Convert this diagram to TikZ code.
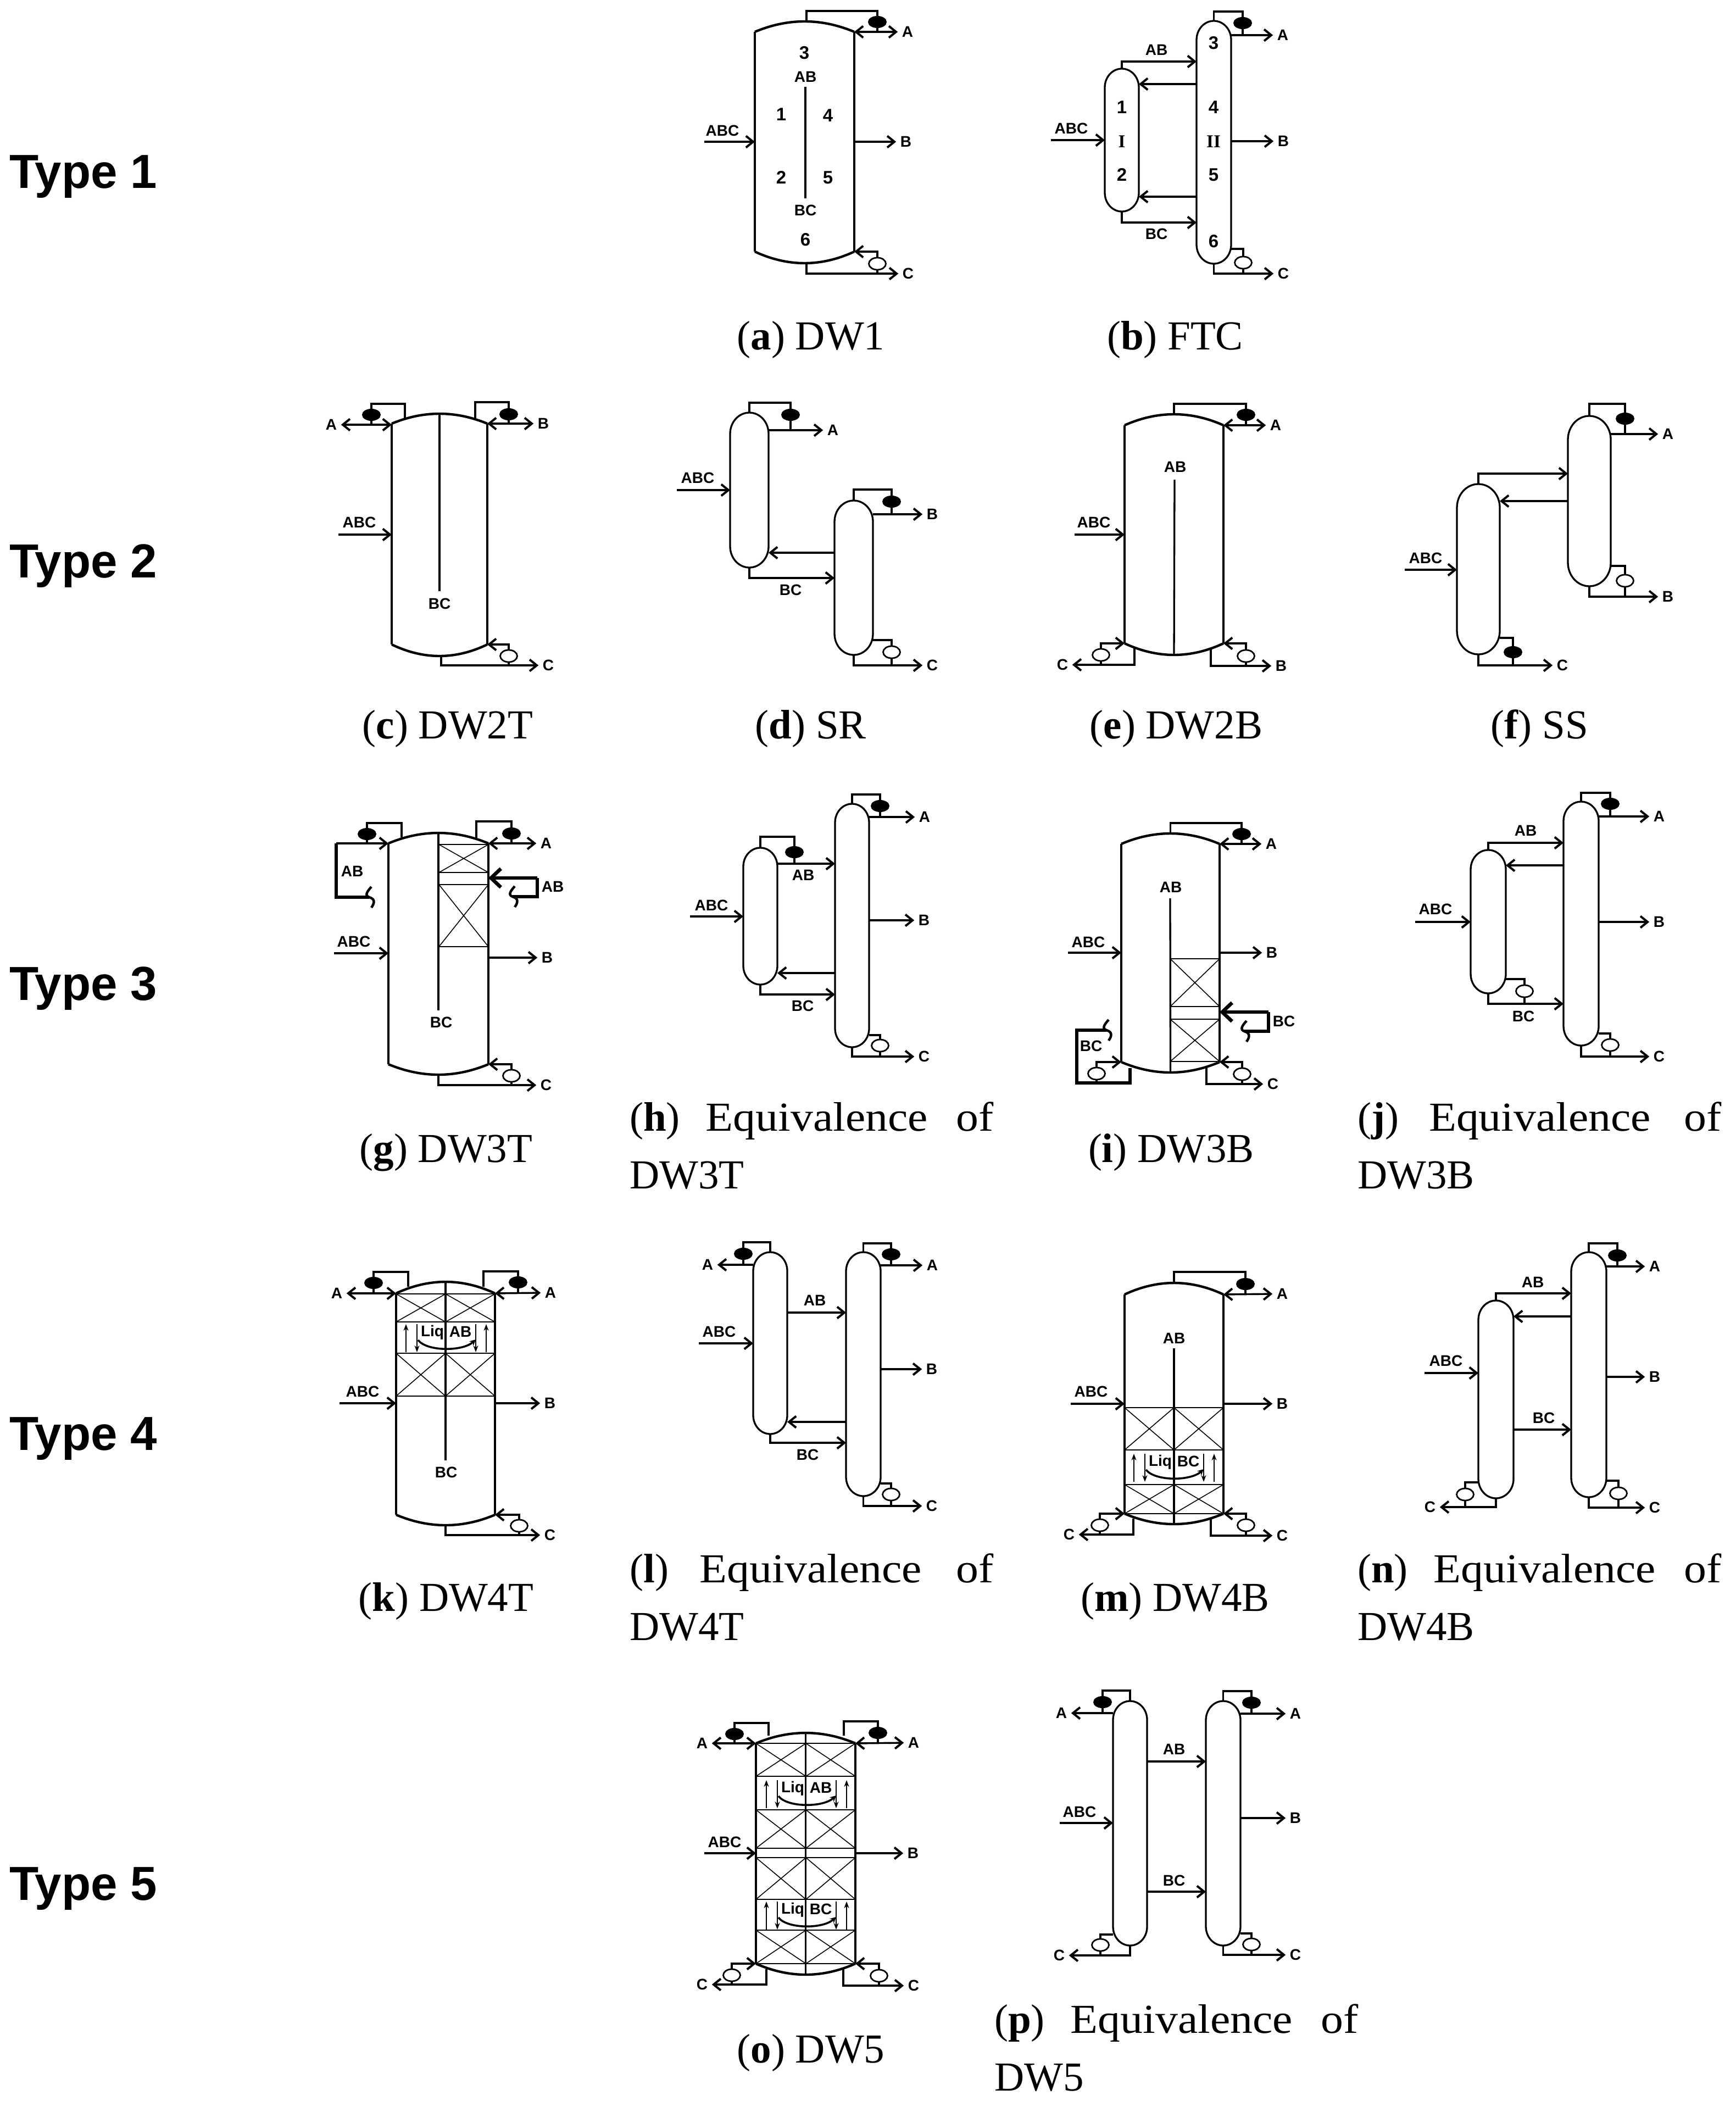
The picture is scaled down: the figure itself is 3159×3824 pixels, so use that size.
\documentclass[tikz,border=0pt]{standalone}
\usepackage{fontspec}
\setmainfont{Liberation Serif}
\setsansfont{Liberation Sans}
\newfontfamily\eqfam[FakeStretch=1.09]{Liberation Serif}
\usetikzlibrary{arrows.meta, shapes.geometric}

\tikzset{
    wall/.style={line width=3.3pt},
    dome/.style={line width=4.4pt},
    pipe/.style={line width=3.4pt},
    flow/.style={pipe, -{Straight Barb[length=13pt,width=21pt,line width=4pt]}},
    flowboth/.style={pipe, {Straight Barb[length=13pt,width=21pt,line width=4pt]}-{Straight Barb[length=13pt,width=21pt,line width=4pt]}},
    flowthick/.style={line width=6pt, -{Straight Barb[length=18pt,width=34pt,line width=6.5pt]}},
    loopline/.style={line width=5.5pt},
    foldline/.style={line width=4.5pt},
    packthin/.style={line width=1.6pt},
    packflat/.style={line width=2.6pt},
    liqarrow/.style={line width=2.6pt, -{Stealth[length=12pt,width=9pt]}},
    liqcurve/.style={line width=3.6pt, -{Stealth[length=11pt,width=11pt]}},
    colbox/.style={inner sep=0pt, outer sep=0pt},
    cond/.style={ellipse, fill=black, inner sep=0pt, minimum width=34pt, minimum height=22pt},
    reb/.style={ellipse, draw, fill=white, line width=2.8pt, inner sep=0pt, minimum width=31pt, minimum height=22pt},
    lbl/.style={font=\sffamily\bfseries\fontsize{28}{30}\selectfont, inner xsep=7.5pt, inner ysep=1pt},
    num/.style={font=\sffamily\bfseries\fontsize{33}{35}\selectfont, inner sep=0pt},
    roman/.style={font=\bfseries\fontsize{33}{35}\selectfont, inner sep=0pt},
    capt/.style={font=\fontsize{75}{80}\selectfont, anchor=base, inner sep=0pt},
    typelbl/.style={font=\sffamily\bfseries\fontsize{87}{92}\selectfont, anchor=base west, inner sep=0pt},
}

% column with flat heads, anchors of the node give crown and sump
\newcommand{\dwshell}[7]{%
    \node[colbox, minimum width={(#3-#2)*1pt}, minimum height={(#7-#4)*1pt}] (#1) at ({(#2+#3)/2},{(#4+#7)/2}) {};
    \coordinate (#1nw) at (#2,#5);
    \coordinate (#1ne) at (#3,#5);
    \coordinate (#1sw) at (#2,#6);
    \coordinate (#1se) at (#3,#6);
    \pgfmathsetmacro{\shr}{(#3-#2)/6}
    \pgfmathsetmacro{\shm}{(#3+#2)/2}
    \draw[wall] (#1nw) -- (#1sw) (#1ne) -- (#1se);
    \draw[dome] (#1nw) .. controls ({#2+\shr},{#4+(#5-#4)/3}) and ({\shm-\shr},#4) .. (#1.north)
        .. controls ({\shm+\shr},#4) and ({#3-\shr},{#4+(#5-#4)/3}) .. (#1ne);
    \draw[dome] (#1sw) .. controls ({#2+\shr},{#7-(#7-#6)/3}) and ({\shm-\shr},#7) .. (#1.south)
        .. controls ({\shm+\shr},#7) and ({#3-\shr},{#7-(#7-#6)/3}) .. (#1se);
}
% slim column with round ends
\newcommand{\capcol}[5]{%
    \node[colbox, minimum width={(#3-#2)*1pt}, minimum height={(#5-#4)*1pt}] (#1) at ({(#2+#3)/2},{(#4+#5)/2}) {};
    \pgfmathsetmacro{\shm}{(#3+#2)/2}
    \pgfmathsetmacro{\shx}{(#3-#2)*0.276}
    \pgfmathsetmacro{\shy}{(#3-#2)*0.55}
    \pgfmathsetmacro{\shk}{\shy*0.552}
    \draw[wall] (#2,{#4+\shy}) .. controls (#2,{#4+\shy-\shk}) and ({\shm-\shx},#4) .. (\shm,#4)
        .. controls ({\shm+\shx},#4) and (#3,{#4+\shy-\shk}) .. (#3,{#4+\shy})
        -- (#3,{#5-\shy}) .. controls (#3,{#5-\shy+\shk}) and ({\shm+\shx},#5) .. (\shm,#5)
        .. controls ({\shm-\shx},#5) and (#2,{#5-\shy+\shk}) .. (#2,{#5-\shy}) -- cycle;
}
\newcommand{\condtop}[5]{%
    \node[cond] (#2) at (#3,#4) {};
    \draw[pipe] (#1) |- (#3,#5) -- (#2.north);
}
\newcommand{\feed}[5]{%
    \coordinate (#1fd) at (#2,#3);
    \node[lbl] (#1abc) at (#4,#5) {ABC};
    \draw[flow] (#1fd) -- (#1fd -| #1.west);
}
\newcommand{\stem}[2]{\draw[pipe] (#1.south) -- (#1.south |- #2);}
\newcommand{\xbox}[4]{%
    \draw[packthin] (#1,#3) -- (#2,#4) (#1,#4) -- (#2,#3);
    \draw[packflat] (#1,#3) -- (#2,#3) (#1,#4) -- (#2,#4);
}
\newcommand{\foldmark}[1]{%
    \begin{scope}[shift={(#1)}]
        \draw[foldline] (4,-19) .. controls (-5,-9) and (-8,-3) .. (0,0) .. controls (10,3) and (11,9) .. (4,19);
    \end{scope}
}
\newcommand{\liqzone}[4]{%
    \draw[liqarrow] ({#2-73},{#3+49}) -- ({#2-73},{#3-2});
    \draw[liqarrow] ({#2-53},{#3-2}) -- ({#2-53},{#3+49});
    \draw[liqarrow] ({#2+54},{#3-2}) -- ({#2+54},{#3+49});
    \draw[liqarrow] ({#2+73},{#3+49}) -- ({#2+73},{#3-2});
    \draw[liqcurve] ({#2-51},{#3+27}) .. controls ({#2-35},{#3+48}) and ({#2+30},{#3+48}) .. ({#2+54},{#3+26});
    \node[lbl, inner xsep=0pt] (#1liq) at ({#2-25},{#3+13}) {Liq};
    \node[lbl, inner xsep=0pt] (#1txt) at ({#2+26},{#3+12}) {#4};
}
\newcommand{\eqcap}[5]{%
    \node[capt, anchor=base west] (#1) at (#2,#3) {\makebox[662pt][s]{(\textbf{#4}) {\eqfam Equivalence of}}};
    \node[capt, anchor=base west] (#1b) at (#2,{#3+105}) {#5};
}

\begin{document}
\begin{tikzpicture}[x=1pt, y=-1pt]
    \useasboundingbox (0,0) rectangle (3159,3824);

    \foreach \n/\ty in {1/342,2/1051,3/1820,4/2639,5/3458} {
        \node[typelbl] (type\n) at (17,\ty) {Type \n};
    }

    % (a) DW1
    \dwshell{a}{1374}{1555}{39}{58}{458}{479}
    \node[lbl] (aA) at (1652,58) {A};
    \node[lbl] (aB) at (1649,258) {B};
    \node[lbl] (aC) at (1653,498) {C};
    \coordinate (aot) at (1468,39);
    \coordinate (aob) at (1468,479);
    \condtop{aot}{acd}{1597}{40}{20}
    \stem{acd}{aA}
    \draw[flowboth] (ane) -- (aA.west);
    \feed{a}{1282}{258}{1315}{238}
    \draw[flow] (a.east |- aB) -- (aB.west);
    \node[reb] (arb) at (1597,480) {};
    \draw[flow] (arb.north) |- (ase);
    \stem{arb}{aC}
    \draw[flow] (aob) |- (aC.west);
    \coordinate (awt) at (1466,158);
    \coordinate (awb) at (1466,361);
    \draw[wall] (awt) -- (awb);
    \foreach \n/\tx/\ty in {3/1464/96,1/1422/208,4/1507/210,2/1422/323,5/1507/323,6/1466/436} {
        \node[num] (a\n) at (\tx,\ty) {\n};
    }
    \node[lbl] (aab) at (1466,140) {AB};
    \node[lbl] (abc) at (1466,383) {BC};
    \node[capt] (capa) at (1476,636) {(\textbf{a}) DW1};

    % (b) FTC
    \capcol{b1}{2011}{2073}{125}{385}
    \capcol{b2}{2178}{2241}{38}{480}
    \node[lbl] (bA) at (2335,64) {A};
    \node[lbl] (bB) at (2336,257) {B};
    \node[lbl] (bC) at (2336,498) {C};
    \condtop{b2.north}{bcd}{2262}{42}{21}
    \stem{bcd}{bA}
    \draw[flow] (b2.east |- bA) -- (bA.west);
    \draw[flow] (b2.east |- bB) -- (bB.west);
    \feed{b1}{1913}{255}{1950}{234}
    \coordinate (bab) at (2178,112);
    \coordinate (bbc) at (2178,405);
    \draw[flow] (b1.north) |- (bab);
    \draw[flow] (b1.south) |- (bbc);
    \coordinate (bv1) at (2178,153);
    \coordinate (bv2) at (2178,358);
    \draw[flow] (bv1) -- (bv1 -| b1.east);
    \draw[flow] (bv2) -- (bv2 -| b1.east);
    \node[lbl] (babl) at (2105,91) {AB};
    \node[lbl] (bbcl) at (2105,426) {BC};
    \node[reb] (brb) at (2263,478) {};
    \coordinate (brw) at (2241,453);
    \draw[pipe] (brw) -| (brb.north);
    \stem{brb}{bC}
    \draw[flow] (b2.south) |- (bC.west);
    \foreach \n/\tx/\ty in {1/2042/195,2/2042/318,3/2209/78,4/2209/195,5/2209/318,6/2209/439} {
        \node[num] (b\n) at (\tx,\ty) {\n};
    }
    \node[roman] (brI) at (2042,258) {I};
    \node[roman] (brII) at (2209,258) {II};
    \node[capt] (capb) at (2139,636) {(\textbf{b}) FTC};

    % (c) DW2T
    \dwshell{c}{713}{887}{753}{771}{1173}{1194}
    \node[lbl] (cA) at (603,773) {A};
    \node[lbl] (cB) at (989,771) {B};
    \node[lbl] (cC) at (998,1211) {C};
    \coordinate (col) at (737,761);
    \coordinate (cor) at (865,761);
    \condtop{col}{ccl}{676}{755}{735}
    \condtop{cor}{ccr}{926}{754}{732}
    \stem{ccl}{cA}
    \stem{ccr}{cB}
    \draw[flowboth] (cA.east) -- (cA.east -| c.west);
    \draw[flowboth] (cne) -- (cB.west);
    \feed{c}{616}{973}{654}{951}
    \coordinate (cwe) at (800,1076);
    \draw[wall] (c.north) -- (cwe);
    \node[lbl] (cbc) at (800,1099) {BC};
    \node[reb] (crb) at (926,1194) {};
    \draw[flow] (crb.north) |- (cse);
    \stem{crb}{cC}
    \coordinate (cob) at (803,1194);
    \draw[flow] (cob) |- (cC.west);
    \node[capt] (capc) at (815,1344) {(\textbf{c}) DW2T};

    % (d) SR
    \capcol{d1}{1329}{1399}{751}{1033}
    \capcol{d2}{1519}{1589}{911}{1192}
    \node[lbl] (dA) at (1516,783) {A};
    \node[lbl] (dB) at (1697,936) {B};
    \node[lbl] (dC) at (1697,1211) {C};
    \condtop{d1.north}{dc1}{1439}{755}{733}
    \condtop{d2.north}{dc2}{1623}{913}{891}
    \stem{dc1}{dA}
    \stem{dc2}{dB}
    \draw[flow] (d1.east |- dA) -- (dA.west);
    \draw[flow] (d2.east |- dB) -- (dB.west);
    \feed{d1}{1232}{892}{1270}{870}
    \coordinate (dv) at (1519,1006);
    \draw[flow] (dv) -- (dv -| d1.east);
    \coordinate (dbc) at (1519,1052);
    \draw[flow] (d1.south) |- (dbc);
    \node[lbl] (dbcl) at (1439,1074) {BC};
    \node[reb] (drb) at (1623,1187) {};
    \coordinate (drw) at (1589,1165);
    \draw[pipe] (drw) -| (drb.north);
    \stem{drb}{dC}
    \draw[flow] (d2.south) |- (dC.west);
    \node[capt] (capd) at (1476,1344) {(\textbf{d}) SR};

    % (e) DW2B
    \dwshell{e}{2047}{2227}{754}{774}{1171}{1192}
    \node[lbl] (eA) at (2322,774) {A};
    \node[lbl] (eB) at (2332,1212) {B};
    \node[lbl] (eC) at (1934,1210) {C};
    \condtop{e.north}{ecd}{2268}{755}{735}
    \stem{ecd}{eA}
    \draw[flowboth] (ene) -- (eA.west);
    \feed{e}{1956}{973}{1991}{951}
    \coordinate (ewt) at (2138,873);
    \draw[wall] (ewt) -- (e.south);
    \node[lbl] (eab) at (2139,850) {AB};
    \coordinate (eol) at (2065,1180);
    \coordinate (eor) at (2204,1180);
    \node[reb] (er1) at (2004,1192) {};
    \node[reb] (er2) at (2268,1194) {};
    \draw[flow] (er1.north) |- (esw);
    \draw[flow] (er2.north) |- (ese);
    \stem{er1}{eC}
    \stem{er2}{eB}
    \draw[flow] (eol) |- (eC.east);
    \draw[flow] (eor) |- (eB.west);
    \node[capt] (cape) at (2141,1344) {(\textbf{e}) DW2B};

    % (f) SS
    \capcol{f1}{2652}{2730}{881}{1191}
    \capcol{f2}{2854}{2932}{757}{1067}
    \node[lbl] (fA) at (3036,790) {A};
    \node[lbl] (fB) at (3036,1086) {B};
    \node[lbl] (fC) at (2844,1211) {C};
    \condtop{f2.north}{fc2}{2958}{762}{735}
    \stem{fc2}{fA}
    \draw[flow] (f2.east |- fA) -- (fA.west);
    \node[reb] (frb) at (2958,1057) {};
    \coordinate (frw) at (2932,1030);
    \draw[pipe] (frw) -| (frb.north);
    \stem{frb}{fB}
    \draw[flow] (f2.south) |- (fB.west);
    \coordinate (fab) at (2854,862);
    \draw[flow] (f1.north) |- (fab);
    \coordinate (fv) at (2854,912);
    \draw[flow] (fv) -- (fv -| f1.east);
    \feed{f1}{2557}{1037}{2595}{1016}
    \node[cond] (fc1) at (2754,1187) {};
    \coordinate (fcw) at (2730,1161);
    \draw[pipe] (fcw) -| (fc1.north);
    \stem{fc1}{fC}
    \draw[flow] (f1.south) |- (fC.west);
    \node[capt] (capf) at (2802,1344) {(\textbf{f}) SS};

    % (g) DW3T
    \dwshell{g}{707}{889}{1516}{1535}{1937}{1956}
    \node[lbl] (gA) at (994,1535) {A};
    \node[lbl] (gB) at (996,1743) {B};
    \node[lbl] (gC) at (994,1975) {C};
    \coordinate (gol) at (731,1524);
    \coordinate (gor) at (867,1525);
    \condtop{gol}{gcl}{668}{1518}{1498}
    \condtop{gor}{gcr}{931}{1517}{1495}
    \coordinate (gll) at (612,1535);
    \stem{gcl}{gll}
    \stem{gcr}{gA}
    \draw[flow] (gll) -- (gnw);
    \draw[flowboth] (gne) -- (gA.west);
    \coordinate (gf1) at (672,1633);
    \draw[loopline] (gll) |- (gf1);
    \foldmark{gf1}
    \node[lbl] (gabl) at (641,1586) {AB};
    \coordinate (grt) at (978,1598);
    \coordinate (gf2) at (933,1632);
    \draw[loopline] (gf2) -| (grt);
    \draw[flowthick] (grt) -- (grt -| g.east);
    \foldmark{gf2}
    \node[lbl] (gabr) at (1006,1614) {AB};
    \feed{g}{608}{1735}{644}{1714}
    \draw[flow] (g.east |- gB) -- (gB.west);
    \coordinate (gwe) at (798,1839);
    \draw[wall] (g.north) -- (gwe);
    \xbox{799}{889}{1537}{1588}
    \xbox{799}{889}{1610}{1723}
    \node[lbl] (gbc) at (803,1861) {BC};
    \node[reb] (grb) at (931,1958) {};
    \draw[flow] (grb.north) |- (gse);
    \stem{grb}{gC}
    \draw[flow] (g.south) |- (gC.west);
    \node[capt] (capg) at (812,2115) {(\textbf{g}) DW3T};

    % (h) equivalence of DW3T
    \capcol{h1}{1353}{1415}{1543}{1792}
    \capcol{h2}{1520}{1582}{1463}{1906}
    \node[lbl] (hA) at (1683,1487) {A};
    \node[lbl] (hB) at (1682,1675) {B};
    \node[lbl] (hC) at (1682,1923) {C};
    \condtop{h2.north}{hc2}{1602}{1467}{1446}
    \stem{hc2}{hA}
    \draw[flow] (h2.east |- hA) -- (hA.west);
    \draw[flow] (h2.east |- hB) -- (hB.west);
    \condtop{h1.north}{hc1}{1446}{1551}{1523}
    \coordinate (hab) at (1520,1572);
    \stem{hc1}{hab}
    \draw[flow] (hab -| h1.east) -- (hab);
    \node[lbl] (habl) at (1462,1593) {AB};
    \feed{h1}{1256}{1668}{1295}{1648}
    \coordinate (hv) at (1520,1771);
    \draw[flow] (hv) -- (hv -| h1.east);
    \coordinate (hbc) at (1520,1810);
    \draw[flow] (h1.south) |- (hbc);
    \node[lbl] (hbcl) at (1461,1831) {BC};
    \node[reb] (hrb) at (1602,1903) {};
    \coordinate (hrw) at (1582,1884);
    \draw[pipe] (hrw) -| (hrb.north);
    \stem{hrb}{hC}
    \draw[flow] (h2.south) |- (hC.west);
    \eqcap{caph}{1146}{2058}{h}{DW3T}

    % (i) DW3B
    \dwshell{i}{2041}{2220}{1517}{1536}{1933}{1952}
    \node[lbl] (iA) at (2314,1536) {A};
    \node[lbl] (iB) at (2315,1734) {B};
    \node[lbl] (iC) at (2317,1973) {C};
    \condtop{i.north}{icd}{2260}{1518}{1498}
    \stem{icd}{iA}
    \draw[flowboth] (ine) -- (iA.west);
    \feed{i}{1944}{1734}{1981}{1715}
    \draw[flow] (i.east |- iB) -- (iB.west);
    \coordinate (iwt) at (2130,1635);
    \draw[wall] (iwt) -- (i.south);
    \node[lbl] (iab) at (2131,1615) {AB};
    \xbox{2130}{2220}{1745}{1832}
    \xbox{2130}{2220}{1855}{1932}
    \coordinate (irt) at (2309,1842);
    \coordinate (if2) at (2265,1877);
    \draw[loopline] (if2) -| (irt);
    \draw[flowthick] (irt) -- (irt -| i.east);
    \foldmark{if2}
    \node[lbl] (ibcr) at (2337,1859) {BC};
    \coordinate (if1) at (2014,1875);
    \coordinate (ilt) at (1960,1875);
    \coordinate (ibl) at (1960,1971);
    \coordinate (ilr) at (2057,1944);
    \draw[loopline] (if1) -- (ilt) -- (ibl) -| (ilr);
    \foldmark{if1}
    \node[lbl] (ibcl) at (1986,1904) {BC};
    \node[reb] (ir1) at (1996,1954) {};
    \draw[flow] (ir1.north) |- (isw);
    \stem{ir1}{ibl}
    \coordinate (ior) at (2196,1944);
    \node[reb] (ir2) at (2261,1955) {};
    \draw[flow] (ir2.north) |- (ise);
    \stem{ir2}{iC}
    \draw[flow] (ior) |- (iC.west);
    \node[capt] (capi) at (2132,2115) {(\textbf{i}) DW3B};

    % (j) equivalence of DW3B
    \capcol{j1}{2677}{2741}{1547}{1808}
    \capcol{j2}{2846}{2910}{1459}{1903}
    \node[lbl] (jA) at (3020,1486) {A};
    \node[lbl] (jB) at (3020,1678) {B};
    \node[lbl] (jC) at (3020,1923) {C};
    \condtop{j2.north}{jcd}{2931}{1463}{1443}
    \stem{jcd}{jA}
    \draw[flow] (j2.east |- jA) -- (jA.west);
    \draw[flow] (j2.east |- jB) -- (jB.west);
    \coordinate (jab) at (2846,1534);
    \draw[flow] (j1.north) |- (jab);
    \node[lbl] (jabl) at (2777,1512) {AB};
    \coordinate (jv) at (2846,1575);
    \draw[flow] (jv) -- (jv -| j1.east);
    \feed{j1}{2576}{1678}{2613}{1655}
    \node[reb] (jr1) at (2775,1804) {};
    \coordinate (jw1) at (2741,1782);
    \draw[pipe] (jw1) -| (jr1.north);
    \coordinate (jbc) at (2846,1827);
    \stem{jr1}{jbc}
    \draw[flow] (j1.south) |- (jbc);
    \node[lbl] (jbcl) at (2773,1850) {BC};
    \node[reb] (jr2) at (2931,1902) {};
    \coordinate (jw2) at (2910,1881);
    \draw[pipe] (jw2) -| (jr2.north);
    \stem{jr2}{jC}
    \draw[flow] (j2.south) |- (jC.west);
    \eqcap{capj}{2471}{2058}{j}{DW3B}

    % (k) DW4T
    \dwshell{k}{721}{901}{2333}{2354}{2757}{2776}
    \node[lbl] (kA1) at (613,2354) {A};
    \node[lbl] (kA2) at (1002,2353) {A};
    \node[lbl] (kB) at (1001,2554) {B};
    \node[lbl] (kC) at (1001,2794) {C};
    \coordinate (kol) at (743,2342);
    \coordinate (kor) at (880,2342);
    \condtop{kol}{kcl}{680}{2335}{2315}
    \condtop{kor}{kcr}{943}{2334}{2314}
    \stem{kcl}{kA1}
    \stem{kcr}{kA2}
    \draw[flowboth] (kA1.east) -- (knw);
    \draw[flowboth] (kne) -- (kA2.west);
    \feed{k}{618}{2554}{660}{2533}
    \draw[flow] (k.east |- kB) -- (kB.west);
    \coordinate (kwe) at (811,2658);
    \draw[wall] (k.north) -- (kwe);
    \foreach \ya/\yb in {2355/2406,2463/2541} {
        \xbox{721}{811}{\ya}{\yb}
        \xbox{811}{901}{\ya}{\yb}
    }
    \liqzone{k}{812}{2412}{AB}
    \node[lbl] (kbc) at (812,2680) {BC};
    \node[reb] (krb) at (945,2777) {};
    \draw[flow] (krb.north) |- (kse);
    \stem{krb}{kC}
    \draw[flow] (k.south) |- (kC.west);
    \node[capt] (capk) at (812,2932) {(\textbf{k}) DW4T};

    % (l) equivalence of DW4T
    \capcol{l1}{1371}{1433}{2279}{2610}
    \capcol{l2}{1540}{1603}{2279}{2723}
    \node[lbl] (lA1) at (1288,2302) {A};
    \node[lbl] (lA2) at (1697,2303) {A};
    \node[lbl] (lB) at (1696,2492) {B};
    \node[lbl] (lC) at (1696,2741) {C};
    \condtop{l1.north}{lc1}{1353}{2282}{2261}
    \condtop{l2.north}{lc2}{1622}{2283}{2263}
    \stem{lc1}{lA1}
    \stem{lc2}{lA2}
    \draw[flow] (lA1.east -| l1.west) -- (lA1.east);
    \draw[flow] (l2.east |- lA2) -- (lA2.west);
    \draw[flow] (l2.east |- lB) -- (lB.west);
    \coordinate (lab) at (1540,2389);
    \draw[flow] (lab -| l1.east) -- (lab);
    \node[lbl] (labl) at (1483,2367) {AB};
    \feed{l1}{1272}{2445}{1309}{2424}
    \coordinate (lv) at (1540,2588);
    \draw[flow] (lv) -- (lv -| l1.east);
    \coordinate (lbc) at (1540,2626);
    \draw[flow] (l1.south) |- (lbc);
    \node[lbl] (lbcl) at (1470,2648) {BC};
    \node[reb] (lrb) at (1622,2720) {};
    \coordinate (lrw) at (1603,2700);
    \draw[pipe] (lrw) -| (lrb.north);
    \stem{lrb}{lC}
    \draw[flow] (l2.south) |- (lC.west);
    \eqcap{capl}{1146}{2880}{l}{DW4T}

    % (m) DW4B
    \dwshell{m}{2047}{2227}{2335}{2356}{2755}{2774}
    \node[lbl] (mA) at (2334,2355) {A};
    \node[lbl] (mB) at (2334,2555) {B};
    \node[lbl] (mC1) at (1946,2793) {C};
    \node[lbl] (mC2) at (2334,2795) {C};
    \condtop{m.north}{mcd}{2267}{2337}{2315}
    \stem{mcd}{mA}
    \draw[flowboth] (mne) -- (mA.west);
    \feed{m}{1949}{2555}{1986}{2533}
    \draw[flow] (m.east |- mB) -- (mB.west);
    \coordinate (mwt) at (2137,2454);
    \draw[wall] (mwt) -- (m.south);
    \node[lbl] (mab) at (2137,2436) {AB};
    \foreach \ya/\yb in {2562/2639,2702/2755} {
        \xbox{2047}{2137}{\ya}{\yb}
        \xbox{2137}{2227}{\ya}{\yb}
    }
    \liqzone{m}{2137}{2648}{BC}
    \coordinate (mol) at (2063,2764);
    \coordinate (mor) at (2204,2764);
    \node[reb] (mr1) at (2002,2776) {};
    \node[reb] (mr2) at (2268,2776) {};
    \draw[flow] (mr1.north) |- (msw);
    \draw[flow] (mr2.north) |- (mse);
    \stem{mr1}{mC1}
    \stem{mr2}{mC2}
    \draw[flow] (mol) |- (mC1.east);
    \draw[flow] (mor) |- (mC2.west);
    \node[capt] (capm) at (2139,2932) {(\textbf{m}) DW4B};

    % (n) equivalence of DW4B
    \capcol{n1}{2691}{2755}{2367}{2727}
    \capcol{n2}{2860}{2924}{2279}{2725}
    \node[lbl] (nA) at (3012,2305) {A};
    \node[lbl] (nB) at (3012,2506) {B};
    \node[lbl] (nC1) at (2603,2743) {C};
    \node[lbl] (nC2) at (3012,2744) {C};
    \condtop{n2.north}{ncd}{2944}{2285}{2263}
    \stem{ncd}{nA}
    \draw[flow] (n2.east |- nA) -- (nA.west);
    \draw[flow] (n2.east |- nB) -- (nB.west);
    \coordinate (nab) at (2860,2354);
    \draw[flow] (n1.north) |- (nab);
    \node[lbl] (nabl) at (2790,2334) {AB};
    \coordinate (nv) at (2860,2396);
    \draw[flow] (nv) -- (nv -| n1.east);
    \feed{n1}{2593}{2499}{2632}{2477}
    \coordinate (nbc) at (2860,2602);
    \draw[flow] (nbc -| n1.east) -- (nbc);
    \node[lbl] (nbcl) at (2810,2581) {BC};
    \node[reb] (nr1) at (2667,2720) {};
    \node[reb] (nr2) at (2946,2718) {};
    \coordinate (nw1) at (2691,2698);
    \coordinate (nw2) at (2924,2695);
    \draw[pipe] (nw1) -| (nr1.north);
    \draw[pipe] (nw2) -| (nr2.north);
    \stem{nr1}{nC1}
    \stem{nr2}{nC2}
    \draw[flow] (n1.south) |- (nC1.east);
    \draw[flow] (n2.south) |- (nC2.west);
    \eqcap{capn}{2471}{2880}{n}{DW4B}

    % (o) DW5
    \dwshell{o}{1376}{1557}{3154}{3173}{3574}{3594}
    \node[lbl] (oA1) at (1278,3173) {A};
    \node[lbl] (oA2) at (1663,3172) {A};
    \node[lbl] (oB) at (1662,3373) {B};
    \node[lbl] (oC1) at (1278,3612) {C};
    \node[lbl] (oC2) at (1663,3614) {C};
    \coordinate (ool) at (1399,3159);
    \coordinate (oor) at (1536,3159);
    \condtop{ool}{ocl}{1337}{3156}{3136}
    \condtop{oor}{ocr}{1598}{3154}{3133}
    \stem{ocl}{oA1}
    \stem{ocr}{oA2}
    \draw[flowboth] (oA1.east) -- (onw);
    \draw[flowboth] (one) -- (oA2.west);
    \feed{o}{1282}{3373}{1319}{3353}
    \draw[flow] (o.east |- oB) -- (oB.west);
    \draw[wall] (o.north) -- (o.south);
    \foreach \ya/\yb in {3173/3233,3294/3364,3381/3457,3513/3574} {
        \xbox{1376}{1467}{\ya}{\yb}
        \xbox{1467}{1557}{\ya}{\yb}
    }
    \liqzone{oa}{1468}{3242}{AB}
    \liqzone{ob}{1468}{3463}{BC}
    \coordinate (oll) at (1395,3584);
    \coordinate (olr) at (1535,3584);
    \node[reb] (or1) at (1332,3595) {};
    \node[reb] (or2) at (1600,3596) {};
    \draw[flow] (or1.north) |- (osw);
    \draw[flow] (or2.north) |- (ose);
    \stem{or1}{oC1}
    \stem{or2}{oC2}
    \draw[flow] (oll) |- (oC1.east);
    \draw[flow] (olr) |- (oC2.west);
    \node[capt] (capo) at (1476,3754) {(\textbf{o}) DW5};

    % (p) equivalence of DW5
    \capcol{p1}{2026}{2088}{3096}{3541}
    \capcol{p2}{2195}{2258}{3096}{3541}
    \node[lbl] (pA1) at (1932,3118) {A};
    \node[lbl] (pA2) at (2358,3119) {A};
    \node[lbl] (pB) at (2358,3309) {B};
    \node[lbl] (pC1) at (1928,3559) {C};
    \node[lbl] (pC2) at (2358,3558) {C};
    \condtop{p1.north}{pc1}{2007}{3098}{3077}
    \condtop{p2.north}{pc2}{2278}{3099}{3078}
    \stem{pc1}{pA1}
    \stem{pc2}{pA2}
    \draw[flow] (p1.west |- pA1) -- (pA1.east);
    \draw[flow] (p2.east |- pA2) -- (pA2.west);
    \draw[flow] (p2.east |- pB) -- (pB.west);
    \coordinate (pab) at (2195,3206);
    \coordinate (pbc) at (2195,3443);
    \draw[flow] (pab -| p1.east) -- (pab);
    \draw[flow] (pbc -| p1.east) -- (pbc);
    \node[lbl] (pabl) at (2137,3184) {AB};
    \node[lbl] (pbcl) at (2137,3423) {BC};
    \feed{p1}{1929}{3318}{1965}{3298}
    \node[reb] (pr1) at (2003,3540) {};
    \node[reb] (pr2) at (2278,3539) {};
    \coordinate (pw1) at (2026,3521);
    \coordinate (pw2) at (2258,3519);
    \draw[pipe] (pw1) -| (pr1.north);
    \draw[pipe] (pw2) -| (pr2.north);
    \stem{pr1}{pC1}
    \stem{pr2}{pC2}
    \draw[flow] (p1.south) |- (pC1.east);
    \draw[flow] (p2.south) |- (pC2.west);
    \eqcap{capp}{1810}{3700}{p}{DW5}
\end{tikzpicture}
\end{document}
